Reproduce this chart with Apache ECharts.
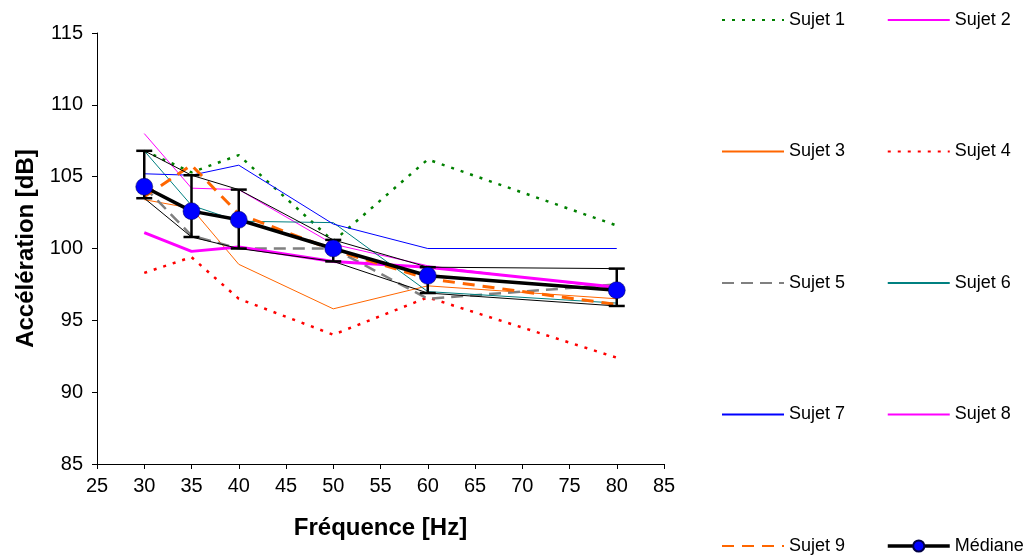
<!DOCTYPE html>
<html>
<head>
<meta charset="utf-8">
<script src="https://cdn.jsdelivr.net/npm/echarts@6/dist/echarts.min.js"></script>
<style>
html,body{margin:0;padding:0;background:#fff;}
#c{width:1026px;height:557px;}
</style>
</head>
<body>
<div id="c"></div>
<script>
const freq = [30, 35, 40, 50, 60, 80];
const sujet1 = [106.8, 105.3, 106.5, 100.5, 106.2, 101.6];
const sujet2 = [108.0, 104.2, 104.1, 100.3, 98.8, 97.2];
const sujet3 = [103.4, 102.8, 98.9, 95.8, 97.4, 96.5];
const sujet4 = [98.3, 99.4, 96.5, 94.0, 96.6, 92.4];
const sujet5 = [104.3, 100.9, 100.0, 100.0, 96.5, 97.5];
const sujet6 = [106.8, 103.0, 101.9, 101.8, 97.0, 96.2];
const sujet7 = [105.2, 105.1, 105.8, 101.7, 100.0, 100.0];
const sujet8 = [101.1, 99.8, 100.1, 99.1, 98.7, 97.3];
const sujet9 = [103.6, 105.8, 102.4, 99.9, 97.9, 96.1];
const mediane = [104.3, 102.6, 102.0, 100.0, 98.1, 97.1];
const errLow = [103.5, 100.8, 100.0, 99.1, 96.9, 96.0];
const errHigh = [106.8, 105.1, 104.1, 100.6, 98.7, 98.6];
const yTicks = [85, 90, 95, 100, 105, 110, 115];
const xTicks = [25, 30, 35, 40, 45, 50, 55, 60, 65, 70, 75, 80, 85];

const FONT = '"Liberation Sans", Arial, sans-serif';
const pairs = arr => freq.map((f, i) => [f, arr[i]]);

function lineSeries(name, arr, color, width, type, z) {
  return {
    name, type: 'line', data: pairs(arr), symbol: 'none', z: z || 2,
    lineStyle: { color, width, type: type || 'solid' },
    itemStyle: { color },
    emphasis: { disabled: true }
  };
}

const legendBase = {
  orient: 'vertical', top: 11, padding: 0, itemGap: 113.5, itemWidth: 62, itemHeight: 14,
  height: 546,
  textStyle: { fontFamily: FONT, fontSize: 18, color: '#000' },
  selectedMode: false,
  itemStyle: { opacity: 0 }
};

const chart = echarts.init(document.getElementById('c'), null, { renderer: 'canvas' });
chart.setOption({
  animation: false,
  backgroundColor: '#fff',
  grid: { left: 97, right: 362, top: 33, bottom: 93, containLabel: false },
  xAxis: {
    type: 'value', min: xTicks[0], max: xTicks[xTicks.length - 1], interval: 5,
    name: 'Fréquence [Hz]', nameLocation: 'middle', nameGap: 52,
    nameTextStyle: { fontFamily: FONT, fontSize: 24, fontWeight: 'bold', color: '#000' },
    axisLine: { show: true, onZero: false, lineStyle: { color: '#000', width: 1 } },
    axisTick: { show: true, inside: false, length: 5, lineStyle: { color: '#000' } },
    axisLabel: { fontFamily: FONT, fontSize: 20, color: '#000', margin: 12 },
    splitLine: { show: false }
  },
  yAxis: {
    type: 'value', min: yTicks[0], max: yTicks[yTicks.length - 1], interval: 5,
    name: 'Accélération [dB]', nameLocation: 'middle', nameGap: 53, nameRotate: 90,
    nameTextStyle: { fontFamily: FONT, fontSize: 24, fontWeight: 'bold', color: '#000' },
    axisLine: { show: true, onZero: false, lineStyle: { color: '#000', width: 1 } },
    axisTick: { show: true, inside: false, length: 5, lineStyle: { color: '#000' } },
    axisLabel: { fontFamily: FONT, fontSize: 20, color: '#000', margin: 14 },
    splitLine: { show: false }
  },
  legend: [
    Object.assign({}, legendBase, {
      left: 721,
      data: ['Sujet 1', 'Sujet 3', 'Sujet 5', 'Sujet 7', 'Sujet 9']
    }),
    Object.assign({}, legendBase, {
      left: 886,
      data: ['Sujet 2', 'Sujet 4', 'Sujet 6', 'Sujet 8',
        { name: 'Médiane', itemStyle: { opacity: 1 }, lineStyle: { width: 3.5, color: '#000' } }]
    })
  ],
  series: [
    lineSeries('Sujet 1', sujet1, '#008000', 2.5, [3, 7]),
    lineSeries('Sujet 2', sujet2, '#FF00FF', 1),
    lineSeries('Sujet 3', sujet3, '#FF6600', 1),
    lineSeries('Sujet 4', sujet4, '#FF0000', 2.5, [3, 7]),
    lineSeries('Sujet 5', sujet5, '#808080', 2.5, [12, 7]),
    lineSeries('Sujet 6', sujet6, '#008080', 1),
    lineSeries('Sujet 7', sujet7, '#0000FF', 1),
    lineSeries('Sujet 8', sujet8, '#FF00FF', 3),
    lineSeries('Sujet 9', sujet9, '#FF6600', 3, [12, 8]),
    lineSeries('Q3', errHigh, '#000000', 1, 'solid', 3),
    lineSeries('Q1', errLow, '#000000', 1, 'solid', 3),
    {
      name: 'err', type: 'custom', z: 9,
      data: freq.map((f, i) => [f, errLow[i], errHigh[i]]),
      renderItem: function (params, api) {
        const x = api.value(0);
        const lo = api.coord([x, api.value(1)]);
        const hi = api.coord([x, api.value(2)]);
        const w = 8;
        const st = { stroke: '#000', lineWidth: 2.5 };
        return {
          type: 'group',
          children: [
            { type: 'line', shape: { x1: hi[0], y1: hi[1], x2: lo[0], y2: lo[1] }, style: st },
            { type: 'line', shape: { x1: hi[0] - w, y1: hi[1], x2: hi[0] + w, y2: hi[1] }, style: st },
            { type: 'line', shape: { x1: lo[0] - w, y1: lo[1], x2: lo[0] + w, y2: lo[1] }, style: st }
          ]
        };
      }
    },
    {
      name: 'Médiane', type: 'line', data: pairs(mediane), z: 10,
      symbol: 'circle', symbolSize: 17, showSymbol: true,
      lineStyle: { color: '#000', width: 3.5 },
      itemStyle: { color: '#0000FF', borderColor: '#000044', borderWidth: 0.5 },
      emphasis: { disabled: true }
    }
  ]
});
</script>
</body>
</html>
